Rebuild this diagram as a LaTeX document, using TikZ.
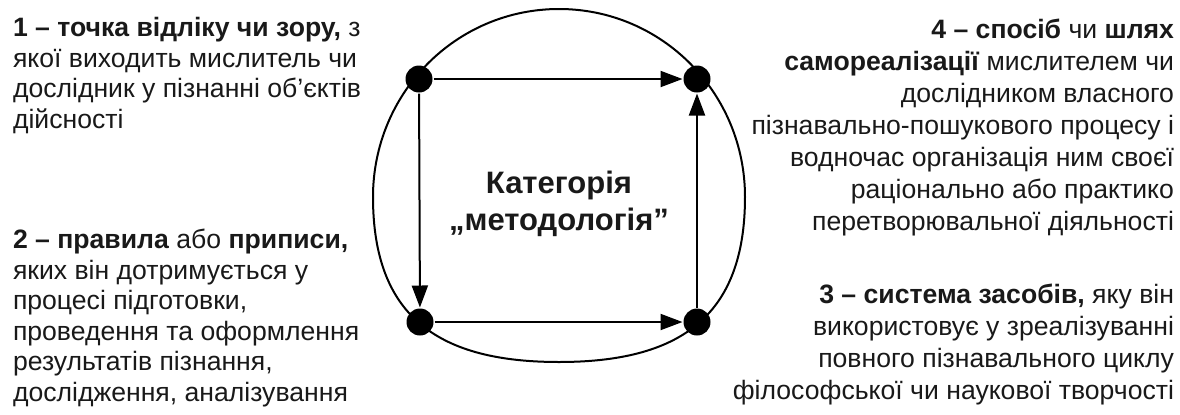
\documentclass[tikz,border=0pt]{standalone}
\usepackage{fontspec}
\setmainfont{Liberation Sans}
\usetikzlibrary{arrows.meta}

\begin{document}
\begin{tikzpicture}[x=0.5pt, y=-0.5pt, line width=1pt, >={Triangle[length=11pt,width=8pt]},
	dot/.style={circle, fill=black, inner sep=0pt, minimum size=13.5pt},
	txt/.style={inner sep=0pt, text=black!90, font=\fontsize{13.3}{15.25}\selectfont},
	txtr/.style={txt, font=\fontsize{13.3}{16}\selectfont}]
	\useasboundingbox (0,0) rectangle (1180,414);
	% outer contour
	\draw (373,197) .. controls (373,93) and (456,9) .. (559,9)
		.. controls (662,9) and (745,93) .. (745,197)
		.. controls (745,318) and (678,362) .. (559,362)
		.. controls (440,362) and (373,318) .. (373,197);
	% corners
	\node[dot] (tl) at (419,79) {};
	\node[dot] (tr) at (697,79) {};
	\node[dot] (bl) at (420,322) {};
	\node[dot] (br) at (697,322) {};
	\draw[->] (tl) -- (tr);
	\draw[->] (tl) -- (bl);
	\draw[->] (bl) -- (br);
	\draw[->] (br) -- (tr);
	\node[anchor=base, align=center, inner sep=0pt, text=black!90, font=\bfseries\fontsize{15.5}{18.5}\selectfont] (cat) at (559,230) {Категорія\\„методологія”};
	% labels
	\node[txt, anchor=base west, align=left] (t1) at (12,128) {\textbf{1 – точка відліку чи зору,} з\\якої виходить мислитель чи\\дослідник у пізнанні об’єктів\\дійсності};
	\node[txt, anchor=base west, align=left] (t2) at (12,401) {\textbf{2 – правила} або \textbf{приписи,}\\яких він дотримується у\\процесі підготовки,\\проведення та оформлення\\результатів пізнання,\\дослідження, аналізування};
	\node[txtr, anchor=base east, align=right] (t4) at (1175,230) {\textbf{4 – спосіб} чи \textbf{шлях}\\\textbf{самореалізації} мислителем чи\\дослідником власного\\пізнавально-пошукового процесу і\\водночас організація ним своєї\\раціонально або практико\\перетворювальної діяльності};
	\node[txtr, anchor=base east, align=right] (t3) at (1175,399) {\textbf{3 – система засобів,} яку він\\використовує у зреалізуванні\\повного пізнавального циклу\\філософської чи наукової творчості};
\end{tikzpicture}
\end{document}
